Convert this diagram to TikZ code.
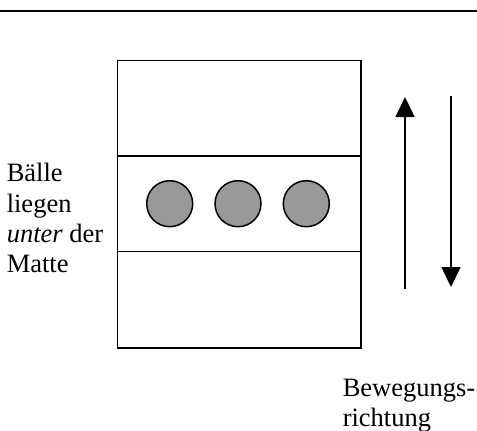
\documentclass[tikz,border=0pt]{standalone}
\usepackage{fontspec}
\setmainfont{Liberation Serif}
\usetikzlibrary{arrows.meta}
\begin{document}
\begin{tikzpicture}[x=1pt,y=-1pt,
  line width=1.5pt,
  txt/.style={font=\fontsize{26.5}{30}\selectfont, inner sep=0pt, anchor=base west},
  ball/.style={circle, draw, fill=black!40, minimum size=46pt, inner sep=0pt, line width=1.5pt},
  dirarrow/.style={-{Triangle[width=19pt,length=20pt]}, line width=1.5pt}]
\useasboundingbox (0,0) rectangle (477,431);
% top rule
\coordinate (ruleL) at (0,11);
\coordinate (ruleR) at (477,11);
\draw[line width=1.7pt] (ruleL) -- (ruleR);
% mat
\node[draw, minimum width=243.5pt, minimum height=287.5pt, inner sep=0pt, anchor=north west] (mat) at (116.5,59.5) {};
\coordinate (l1L) at (116.5,156);
\coordinate (l1R) at (360,156);
\coordinate (l2L) at (116.5,251.5);
\coordinate (l2R) at (360,251.5);
\draw (l1L) -- (l1R);
\draw (l2L) -- (l2R);
% balls
\node[ball] (b1) at (169.7,203.7) {};
\node[ball] (b2) at (238,203.7) {};
\node[ball] (b3) at (306.3,203.7) {};
% arrows
\coordinate (upS) at (405,289);
\coordinate (upE) at (405,97);
\coordinate (dnS) at (451,96);
\coordinate (dnE) at (451,287);
\draw[dirarrow] (upS) -- (upE);
\draw[dirarrow] (dnS) -- (dnE);
% texts
\node[txt] (t1) at (6,181) {Bälle};
\node[txt] (t2) at (6,212) {liegen};
\node[txt] (t3) at (6,242) {\textit{unter} der};
\node[txt] (t4) at (6,272) {Matte};
\node[txt] (t5) at (342,396) {Bewegungs-};
\node[txt] (t6) at (342,426) {richtung};
\end{tikzpicture}
\end{document}
